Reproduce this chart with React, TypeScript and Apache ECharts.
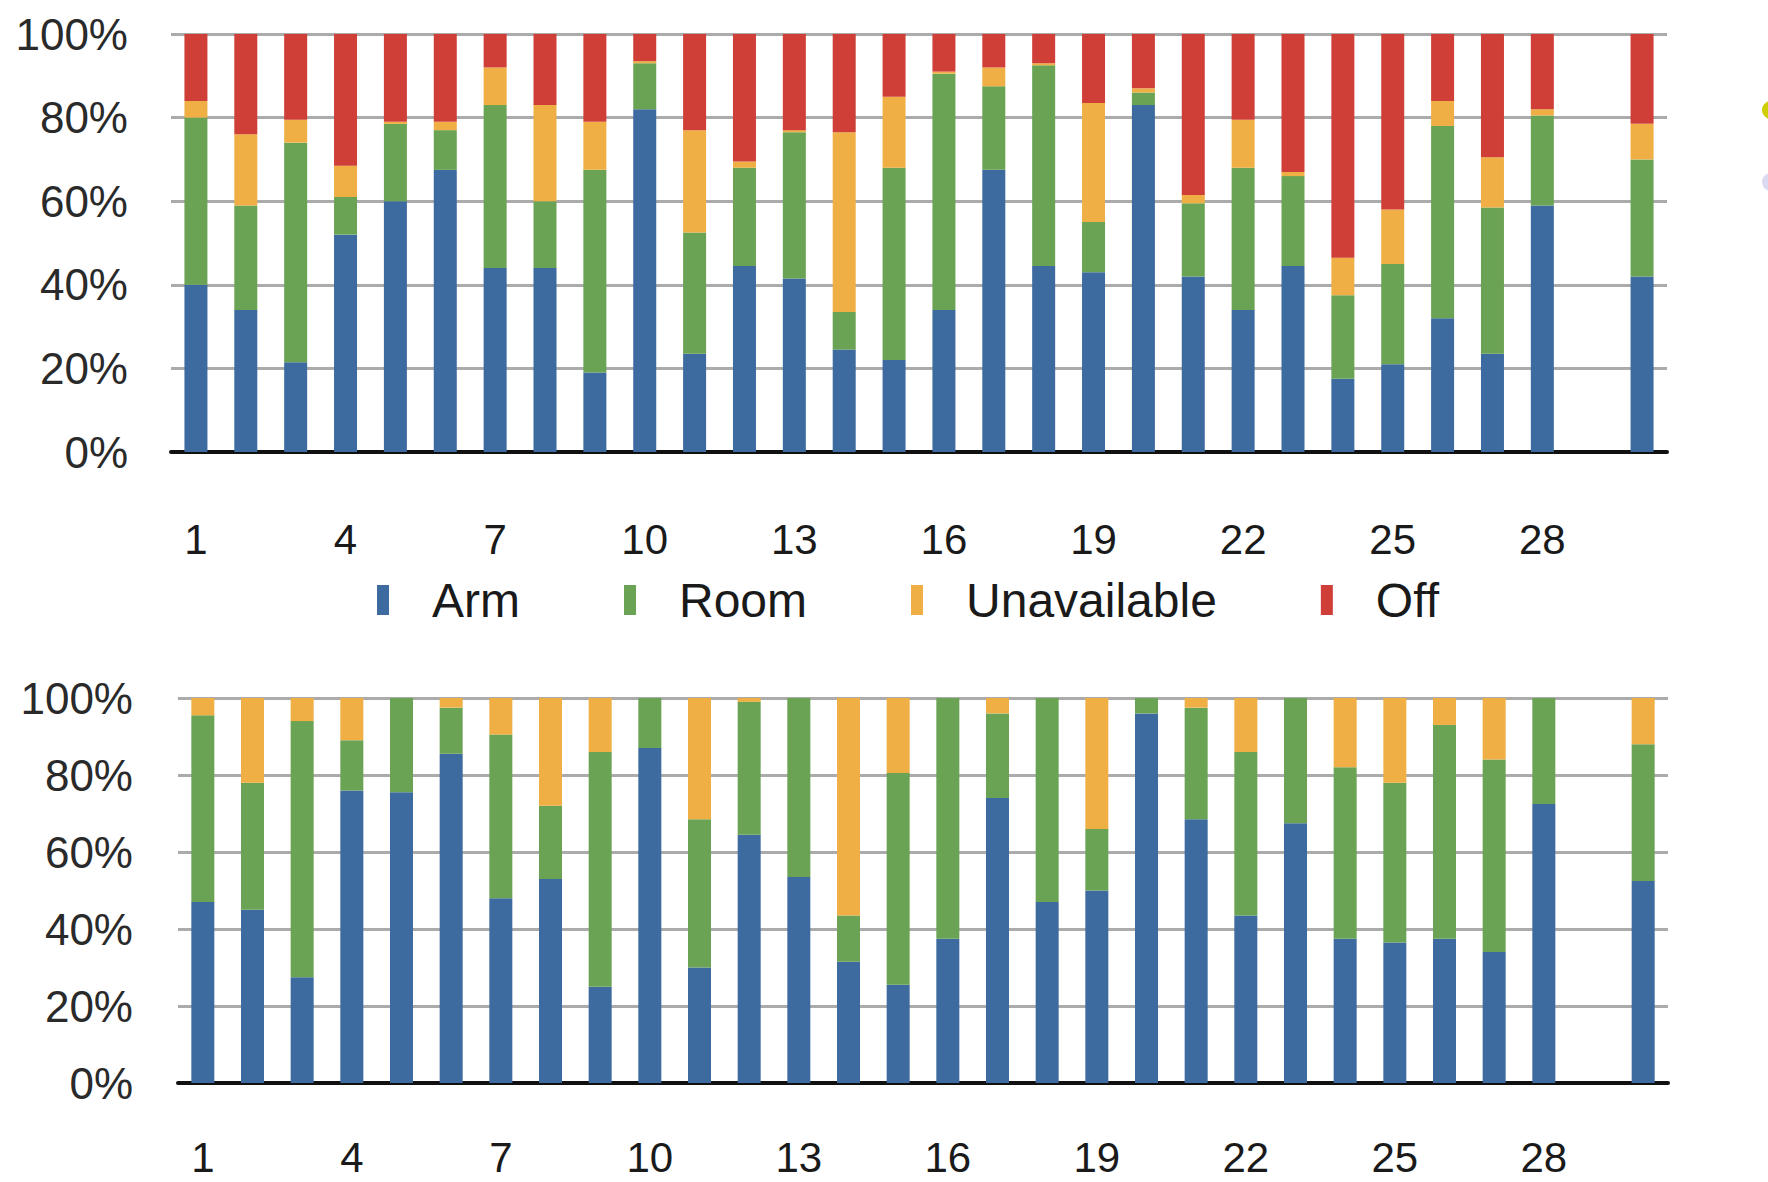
import React, { useEffect, useRef } from "react";
import * as echarts from "echarts";

const categories = Array.from({ length: 30 }, (_, i) => String(i + 1));

// Top chart (percent of total)
const topArm = [40, 34, 21.5, 52, 60, 67.5, 44, 44, 19, 82, 23.5, 44.5, 41.5, 24.5, 22, 34, 67.5, 44.5, 43, 83, 42, 34, 44.5, 17.5, 21, 32, 23.5, 59, null, 42];
const topRoom = [40, 25, 52.5, 9, 18.5, 9.5, 39, 16, 48.5, 11, 29, 23.5, 35, 9, 46, 56.5, 20, 48, 12, 3, 17.5, 34, 21.5, 20, 24, 46, 35, 21.5, null, 28];
const topUnavailable = [4, 17, 5.5, 7.5, 0.5, 2, 9, 23, 11.5, 0.5, 24.5, 1.5, 0.5, 43, 17, 0.5, 4.5, 0.5, 28.5, 1, 2, 11.5, 1, 9, 13, 6, 12, 1.5, null, 8.5];
const topOff = [16, 24, 20.5, 31.5, 21, 21, 8, 17, 21, 6.5, 23, 30.5, 23, 23.5, 15, 9, 8, 7, 16.5, 13, 38.5, 20.5, 33, 53.5, 42, 16, 29.5, 18, null, 21.5];

// Bottom chart (percent of total, excluding Off)
const botArm = [47, 45, 27.5, 76, 75.5, 85.5, 48, 53, 25, 87, 30, 64.5, 53.5, 31.5, 25.5, 37.5, 74, 47, 50, 96, 68.5, 43.5, 67.5, 37.5, 36.5, 37.5, 34, 72.5, null, 52.5];
const botRoom = [48.5, 33, 66.5, 13, 24.5, 12, 42.5, 19, 61, 13, 38.5, 34.5, 46.5, 12, 55, 62.5, 22, 53, 16, 4, 29, 42.5, 32.5, 44.5, 41.5, 55.5, 50, 27.5, null, 35.5];
const botUnavailable = [4.5, 22, 6, 11, 0, 2.5, 9.5, 28, 14, 0, 31.5, 1, 0, 56.5, 19.5, 0, 4, 0, 34, 0, 2.5, 14, 0, 18, 22, 7, 16, 0, null, 12];

const yTicks = [0, 20, 40, 60, 80, 100];
const legendNames = ["Arm", "Room", "Unavailable", "Off"];

const COLORS = {
  Arm: "#3d6a9f",
  Room: "#6aa353",
  Unavailable: "#efaf45",
  Off: "#cf3f37",
};

const FONT = "'Liberation Sans', Arial, Helvetica, sans-serif";

export default function App() {
  const ref = useRef<HTMLDivElement>(null);

  useEffect(() => {
    if (!ref.current) return;
    const chart = echarts.init(ref.current, undefined, { renderer: "svg" });

    const yAxisCommon = (gridIndex: number, margin: number) => ({
      type: "value" as const,
      gridIndex,
      min: yTicks[0],
      max: yTicks[yTicks.length - 1],
      interval: 20,
      axisLine: { show: false },
      axisTick: { show: false },
      axisLabel: {
        formatter: "{value}%",
        fontFamily: FONT,
        fontSize: 44,
        color: "#2a2a2a",
        margin,
      },
      splitLine: { show: true, lineStyle: { color: "#ababab", width: 3 } },
    });

    const xAxisCommon = (gridIndex: number, margin: number) => ({
      type: "category" as const,
      gridIndex,
      data: categories,
      axisLine: { show: true, lineStyle: { color: "#111", width: 4 } },
      axisTick: { show: false },
      axisLabel: {
        interval: 2,
        fontFamily: FONT,
        fontSize: 42,
        color: "#1a1a1a",
        margin,
      },
    });

    const bar = (name: string, data: (number | null)[], idx: number, stack: string) => ({
      name,
      type: "bar" as const,
      stack,
      xAxisIndex: idx,
      yAxisIndex: idx,
      data,
      barWidth: 23,
      itemStyle: { color: (COLORS as any)[name] },
    });

    chart.setOption({
      animation: false,
      backgroundColor: "#ffffff",
      grid: [
        { left: 171, top: 34, width: 1496, height: 418 },
        { left: 178, top: 698, width: 1490, height: 385 },
      ],
      legend: {
        data: legendNames,
        left: 372,
        top: 571,
        icon: "rect",
        itemWidth: 12,
        itemHeight: 30,
        itemGap: 104,
        textStyle: {
          fontFamily: FONT,
          fontSize: 48,
          color: "#1a1a1a",
          padding: [0, 0, 0, 38],
        },
      },
      xAxis: [xAxisCommon(0, 66), xAxisCommon(1, 53)],
      yAxis: [yAxisCommon(0, 43), yAxisCommon(1, 45)],
      series: [
        bar("Arm", topArm, 0, "top"),
        bar("Room", topRoom, 0, "top"),
        bar("Unavailable", topUnavailable, 0, "top"),
        bar("Off", topOff, 0, "top"),
        bar("Arm", botArm, 1, "bottom"),
        bar("Room", botRoom, 1, "bottom"),
        bar("Unavailable", botUnavailable, 1, "bottom"),
      ],
      graphic: [
        { type: "circle", shape: { cx: 1771, cy: 110, r: 9 }, style: { fill: "#cfcf00" } },
        { type: "circle", shape: { cx: 1771, cy: 182, r: 9 }, style: { fill: "#dadaf0" } },
      ],
    });

    return () => chart.dispose();
  }, []);

  return (
    <div
      ref={ref}
      style={{ position: "fixed", left: 0, top: 0, width: 1768, height: 1182, background: "#fff" }}
    />
  );
}
